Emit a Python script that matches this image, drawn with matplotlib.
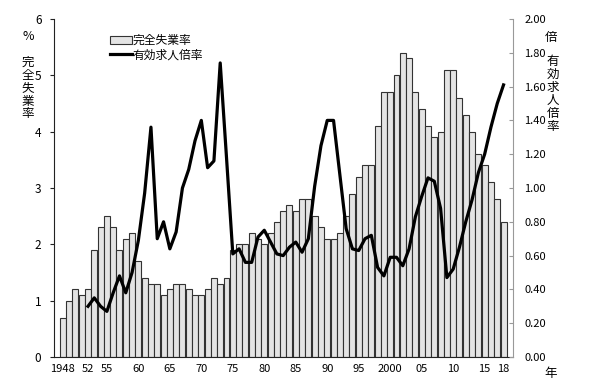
import matplotlib
matplotlib.use("Agg")
import matplotlib.pyplot as plt
import numpy as np

plt.rcParams['font.family'] = ['Noto Sans CJK JP', 'DejaVu Sans']

years = list(range(1948, 2019))
unemployment = [0.7, 1.0, 1.2, 1.1, 1.2, 1.9, 2.3, 2.5, 2.3, 1.9,
                2.1, 2.2, 1.7, 1.4, 1.3, 1.3, 1.1, 1.2, 1.3, 1.3,
                1.2, 1.1, 1.1, 1.2, 1.4, 1.3, 1.4, 1.9, 2.0, 2.0,
                2.2, 2.1, 2.0, 2.2, 2.4, 2.6, 2.7, 2.6, 2.8, 2.8,
                2.5, 2.3, 2.1, 2.1, 2.2, 2.5, 2.9, 3.2, 3.4, 3.4,
                4.1, 4.7, 4.7, 5.0, 5.4, 5.3, 4.7, 4.4, 4.1, 3.9,
                4.0, 5.1, 5.1, 4.6, 4.3, 4.0, 3.6, 3.4, 3.1, 2.8,
                2.4]

ratio_years = list(range(1952, 2019))
job_ratio = [0.30, 0.35, 0.30, 0.27, 0.38, 0.48, 0.38, 0.50, 0.69, 0.97,
             1.36, 0.70, 0.80, 0.64, 0.74, 1.00, 1.11, 1.28, 1.40, 1.12,
             1.16, 1.74, 1.18, 0.61, 0.64, 0.56, 0.56, 0.71, 0.75, 0.68,
             0.61, 0.60, 0.65, 0.68, 0.62, 0.70, 1.01, 1.25, 1.40, 1.40,
             1.08, 0.76, 0.64, 0.63, 0.70, 0.72, 0.53, 0.48, 0.59, 0.59,
             0.54, 0.64, 0.83, 0.95, 1.06, 1.04, 0.88, 0.47, 0.52, 0.65,
             0.80, 0.93, 1.09, 1.20, 1.36, 1.50, 1.61]

xtick_years = [1948, 1952, 1955, 1960, 1965, 1970, 1975, 1980, 1985, 1990,
               1995, 2000, 2005, 2010, 2015, 2018]
xtick_labels = ['1948', '52', '55', '60', '65', '70', '75', '80', '85', '90',
                '95', '2000', '05', '10', '15', '18']

fig = plt.figure(figsize=(6.06, 3.86), dpi=100)
ax = fig.add_axes([0.0891, 0.0751, 0.7574, 0.8757])
ax2 = ax.twinx()

bars = ax.bar(years, unemployment, width=0.95, color='#e4e4e4',
              edgecolor='#333333', linewidth=0.8, zorder=2)
line, = ax2.plot(ratio_years, job_ratio, color='black', linewidth=2.3,
                 zorder=3)

ax.set_xlim(1946.6, 2019.5)
ax.set_ylim(0, 6)
ax2.set_ylim(0, 2.0)
ax.set_yticks(range(0, 7))
ax2.set_yticks(np.arange(0, 2.01, 0.2))
ax2.set_yticklabels([f'{v:.2f}' for v in np.arange(0, 2.01, 0.2)])
ax.set_xticks(xtick_years)
ax.set_xticklabels(xtick_labels)

for a in (ax, ax2):
    a.spines['top'].set_visible(False)
ax.spines['right'].set_visible(False)
ax2.spines['left'].set_visible(False)
ax2.spines['bottom'].set_visible(False)
ax.spines['left'].set_color('#222222')
ax.spines['bottom'].set_color('#222222')
ax2.spines['right'].set_color('#999999')

ax.tick_params(axis='y', direction='out', length=3, color='#222222',
               labelsize=8.5, pad=6)
ax.tick_params(axis='x', length=0, labelsize=8, pad=5)
ax2.tick_params(axis='y', direction='in', length=3, color='#999999',
                labelsize=8, pad=8)

fig.text(28 / 606, 1 - 36 / 386, '%', fontsize=9, ha='center', va='center')
fig.text(28 / 606, 1 - 88 / 386, '\n'.join('完全失業率'), fontsize=9,
         ha='center', va='center', linespacing=1.0)
fig.text(551 / 606, 1 - 37 / 386, '倍', fontsize=9, ha='center', va='center')
fig.text(553 / 606, 1 - 94 / 386, '\n'.join('有効求人倍率'), fontsize=9,
         ha='center', va='center', linespacing=1.0)
fig.text(551 / 606, 1 - 373 / 386, '年', fontsize=9, ha='center', va='center')

leg = ax2.legend([bars, line], ['完全失業率', '有効求人倍率'],
                 loc='upper left', bbox_to_anchor=(0.105, 0.98),
                 frameon=False, fontsize=8.5, handlelength=1.8,
                 handletextpad=0.1, labelspacing=0.1, borderpad=0.2)

fig.savefig('out.png', dpi=100)
